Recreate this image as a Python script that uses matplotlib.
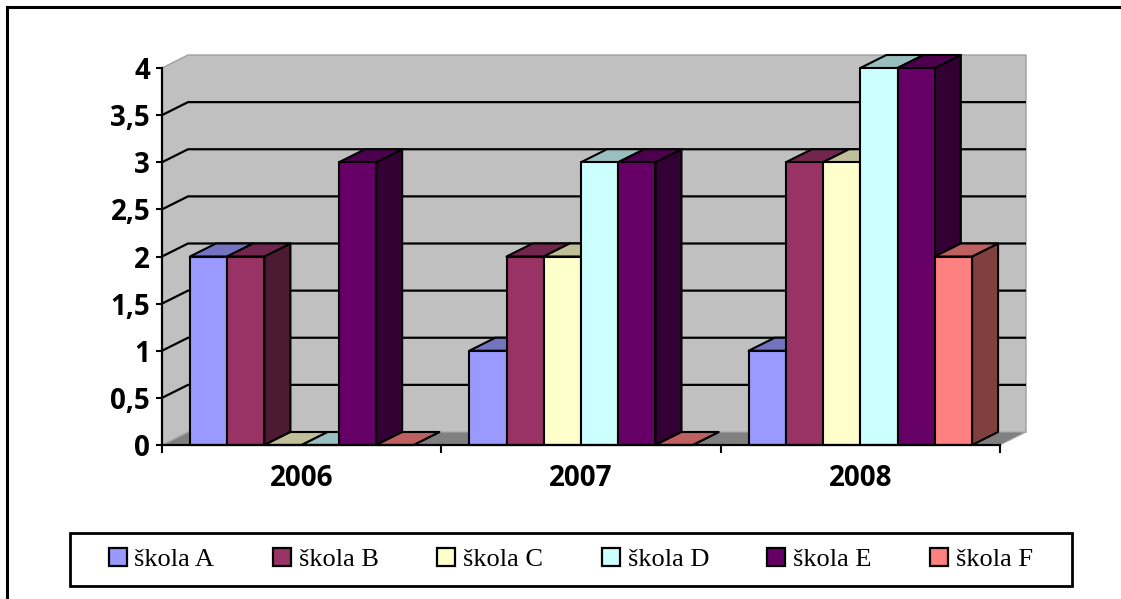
import numpy as np
import matplotlib.pyplot as plt
import matplotlib.colors as mcolors
from matplotlib.patches import Polygon, Rectangle, Patch
from matplotlib.lines import Line2D

# data
years = ['2006', '2007', '2008']
schools = ['škola A', 'škola B', 'škola C', 'škola D', 'škola E', 'škola F']
skola_a = [2, 1, 1]
skola_b = [2, 2, 3]
skola_c = [0, 2, 3]
skola_d = [0, 3, 4]
skola_e = [3, 3, 4]
skola_f = [0, 0, 2]
series = [skola_a, skola_b, skola_c, skola_d, skola_e, skola_f]
colors = ['#9999FF', '#993366', '#FFFFCC', '#CCFFFF', '#660066', '#FF8080']
yticks = np.arange(0, 4.01, 0.5)


def shade(c, f):
    r, g, b = mcolors.to_rgb(c)
    return (r * f, g * f, b * f)


W, H = 1121, 599
fig = plt.figure(figsize=(W / 100, H / 100), dpi=100)
ax = fig.add_axes([162 / W, 1 - 445 / H, (1000 - 162) / W, (445 - 68) / H])
ax.set_xlim(-0.5, 2.5)
ax.set_ylim(0, 4)
ax.patch.set_visible(False)

# 3D depth offset in data units
dx = 26 / (838 / 3)
dy = 13 / (377 / 4)
x0, x1 = -0.5, 2.5
ytop = yticks[-1]

# walls and floor
side = Polygon([(x0, 0), (x0, ytop), (x0 + dx, ytop + dy), (x0 + dx, dy)],
               facecolor='#C0C0C0', edgecolor='none', clip_on=False, zorder=0)
back = Rectangle((x0 + dx, dy), x1 - x0, ytop, facecolor='#C0C0C0',
                 edgecolor='none', clip_on=False, zorder=0)
floor = Polygon([(x0, 0), (x1, 0), (x1 + dx, dy), (x0 + dx, dy)],
                facecolor='#808080', edgecolor='#A8A8A8', lw=0.8,
                clip_on=False, zorder=0)
for p in (side, back, floor):
    ax.add_patch(p)
ax.plot([x0, x0 + dx, x1 + dx, x1 + dx], [ytop, ytop + dy, ytop + dy, dy],
        color='#A0A0A0', lw=1, clip_on=False, zorder=0.5)
ax.plot([x0, x0 + dx], [0, dy], color='#A8A8A8', lw=1, clip_on=False, zorder=0.5)

# gridlines on side wall + back wall
for v in yticks[1:-1]:
    ax.plot([x0, x0 + dx, x1 + dx], [v, v + dy, v + dy], color='black',
            lw=1.6, clip_on=False, zorder=1, solid_capstyle='butt')

# bars
n = len(series)
w = 0.8 / n
z = 2
for i in range(len(years)):
    for j in range(n):
        h = series[j][i]
        c = colors[j]
        bx = i - 0.4 + j * w
        kw = dict(edgecolor='black', lw=1.5, clip_on=False, joinstyle='round')
        sd = Polygon([(bx + w, 0), (bx + w + dx, dy), (bx + w + dx, h + dy), (bx + w, h)],
                     facecolor=shade(c, 0.5), zorder=z, **kw)
        tp = Polygon([(bx, h), (bx + w, h), (bx + w + dx, h + dy), (bx + dx, h + dy)],
                     facecolor=shade(c, 0.75), zorder=z + 0.1, **kw)
        fr = Rectangle((bx, 0), w, h, facecolor=c, zorder=z + 0.2, **kw)
        ax.add_patch(sd)
        ax.add_patch(tp)
        ax.add_patch(fr)
        z += 1

# axes lines and ticks
for s in ('top', 'right'):
    ax.spines[s].set_visible(False)
for s in ('left', 'bottom'):
    ax.spines[s].set_linewidth(1.6)
    ax.spines[s].set_zorder(z + 1)

tick_font = dict(family=['Open Sans', 'DejaVu Sans'], weight='bold', size=20)
ax.set_yticks(yticks)
ax.set_yticklabels([f'{v:g}'.replace('.', ',') for v in yticks], fontdict=tick_font)
ax.tick_params(axis='y', direction='out', length=4.5, width=1.5, pad=4)

ax.set_xticks([-0.5, 0.5, 1.5, 2.5])
ax.set_xticklabels([])
ax.tick_params(axis='x', which='major', direction='out', length=6, width=1.5)
ax.set_xticks(range(len(years)), minor=True)
ax.set_xticklabels(years, minor=True, fontdict=tick_font)
ax.tick_params(axis='x', which='minor', length=0, pad=14)

# outer chart frame
fig.add_artist(Line2D([7 / W, 7 / W], [0, 1 - 7 / H], color='black', lw=2.2,
                      transform=fig.transFigure))
fig.add_artist(Line2D([7 / W, 1], [1 - 7 / H, 1 - 7 / H], color='black', lw=2.2,
                      transform=fig.transFigure))

# legend
fig.add_artist(Rectangle((70 / W, 1 - 586 / H), 1002 / W, 53 / H, fill=False,
                         edgecolor='black', lw=2, transform=fig.transFigure))
handles = [Patch(facecolor=c, edgecolor='black', lw=1.6) for c in colors]
fig.legend(handles, schools, ncol=6, loc='center',
           bbox_to_anchor=(571 / W, 1 - 559.5 / H), frameon=False,
           prop=dict(family='Liberation Serif', size=19),
           handlelength=0.68, handleheight=0.68, handletextpad=0.3,
           columnspacing=2.22)

fig.savefig('out.png', dpi=100)
